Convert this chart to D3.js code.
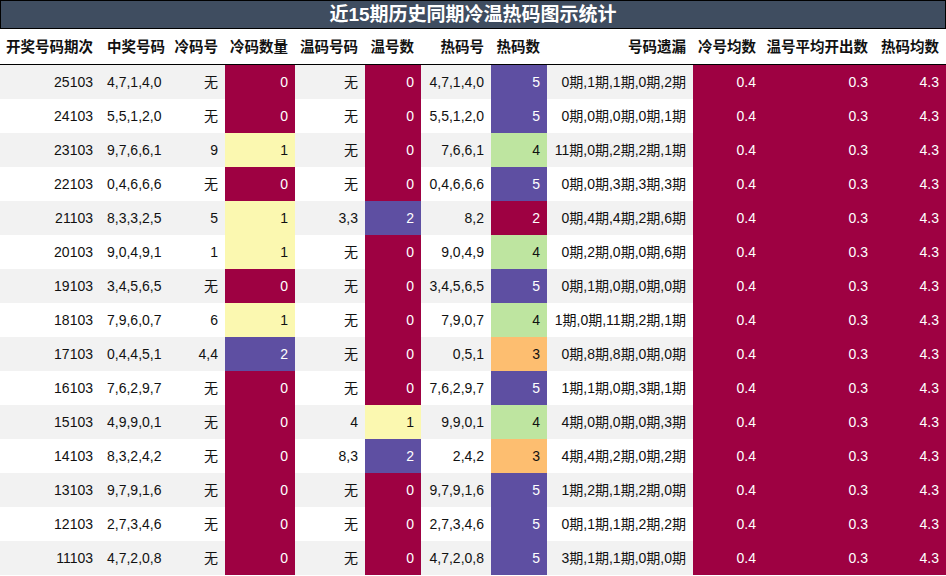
<!DOCTYPE html>
<html><head><meta charset="utf-8">
<script src="https://cdn.jsdelivr.net/npm/d3@7"></script>
<style>body{margin:0;background:#fff}</style>
</head><body>
<svg id="c" width="946" height="576"></svg>
<script>
const periods = ["25103","24103","23103","22103","21103","20103","19103","18103","17103","16103","15103","14103","13103","12103","11103"];
const winning = ["4,7,1,4,0","5,5,1,2,0","9,7,6,6,1","0,4,6,6,6","8,3,3,2,5","9,0,4,9,1","3,4,5,6,5","7,9,6,0,7","0,4,4,5,1","7,6,2,9,7","4,9,9,0,1","8,3,2,4,2","9,7,9,1,6","2,7,3,4,6","4,7,2,0,8"];
const coldNums = ["无","无","9","无","5","1","无","6","4,4","无","无","无","无","无","无"];
const coldCount = [0,0,1,0,1,1,0,1,2,0,0,0,0,0,0];
const warmNums = ["无","无","无","无","3,3","无","无","无","无","无","4","8,3","无","无","无"];
const warmCount = [0,0,0,0,2,0,0,0,0,0,1,2,0,0,0];
const hotNums = ["4,7,1,4,0","5,5,1,2,0","7,6,6,1","0,4,6,6,6","8,2","9,0,4,9","3,4,5,6,5","7,9,0,7","0,5,1","7,6,2,9,7","9,9,0,1","2,4,2","9,7,9,1,6","2,7,3,4,6","4,7,2,0,8"];
const hotCount = [5,5,4,5,2,4,5,4,3,5,4,3,5,5,5];
const missing = ["0期,1期,1期,0期,2期","0期,0期,0期,0期,1期","11期,0期,2期,2期,1期","0期,0期,3期,3期,3期","0期,4期,4期,2期,6期","0期,2期,0期,0期,6期","0期,1期,0期,0期,0期","1期,0期,11期,2期,1期","0期,8期,8期,0期,0期","1期,1期,0期,3期,1期","4期,0期,0期,0期,3期","4期,4期,2期,0期,2期","1期,2期,1期,2期,0期","0期,1期,1期,2期,2期","3期,1期,1期,0期,0期"];
const coldAvg = Array(15).fill(0.4);
const warmAvg = Array(15).fill(0.3);
const hotAvg = Array(15).fill(4.3);

const cols = [
  {h:"开奖号码期次", w:100, d:periods},
  {h:"中奖号码", w:68, d:winning, left:true},
  {h:"冷码号", w:57, d:coldNums},
  {h:"冷码数量", w:70, d:coldCount, color:true},
  {h:"温码号码", w:70, d:warmNums},
  {h:"温号数", w:56, d:warmCount, color:true},
  {h:"热码号", w:70, d:hotNums},
  {h:"热码数", w:56, d:hotCount, color:true},
  {h:"号码遗漏", w:146, d:missing},
  {h:"冷号均数", w:70, d:coldAvg, color:true},
  {h:"温号平均开出数", w:112, d:warmAvg, color:true},
  {h:"热码均数", w:71, d:hotAvg, color:true}
];
const font = "'Liberation Sans','Noto Sans CJK SC',sans-serif";
const svg = d3.select("#c");
const titleH = 29, headH = 36, top0 = titleH + headH;
const y = d3.scaleBand().domain(d3.range(15)).range([top0, 575]);
let x0 = 0;
cols.forEach(c => { c.x = x0; x0 += c.w; });

svg.append("rect").attr("x",0.5).attr("y",0.5).attr("width",945).attr("height",titleH-1)
  .attr("fill","#3f4d60").attr("stroke","#000");
svg.append("text").attr("x",473).attr("y",21).attr("text-anchor","middle")
  .attr("fill","#fff").attr("font-family",font).attr("font-weight","bold").attr("font-size",19)
  .text("近15期历史同期冷温热码图示统计");

// stripes
svg.selectAll("rect.stripe").data(d3.range(15)).join("rect").attr("class","stripe")
  .attr("x",0).attr("width",946).attr("y",i=>y(i)).attr("height",y.bandwidth())
  .attr("fill",i=>i%2===0?"#f2f2f2":"#fff");

cols.forEach(c => {
  const tx = c.left ? c.x + 7 : c.x + c.w - 7, anchor = c.left ? "start" : "end";
  svg.append("text").attr("x",tx).attr("y",titleH+23).attr("text-anchor",anchor)
    .attr("font-family",font).attr("font-weight","bold").attr("font-size",14.5).attr("fill","#111").text(c.h);
  let sc = null;
  if (c.color) {
    const ext = d3.extent(c.d);
    sc = v => ext[0]===ext[1] ? d3.interpolateSpectral(0) : d3.interpolateSpectral((v-ext[0])/(ext[1]-ext[0]));
  }
  const g = svg.append("g");
  c.d.forEach((v,i) => {
    let fg = "#111";
    if (sc) {
      const col = sc(v);
      g.append("rect").attr("x",c.x).attr("y",y(i)).attr("width",c.w).attr("height",y.bandwidth()).attr("fill",col);
      fg = d3.hsl(col).l > 0.6 ? "#111" : "#fff";
    }
    g.append("text").attr("x",tx).attr("y",y(i)+y.bandwidth()/2+5).attr("text-anchor",anchor)
      .attr("font-family",font).attr("font-size",14).attr("fill",fg).text(v);
  });
});
svg.append("line").attr("x1",0).attr("x2",946).attr("y1",top0-0.5).attr("y2",top0-0.5).attr("stroke","#000");
</script>
</body></html>
